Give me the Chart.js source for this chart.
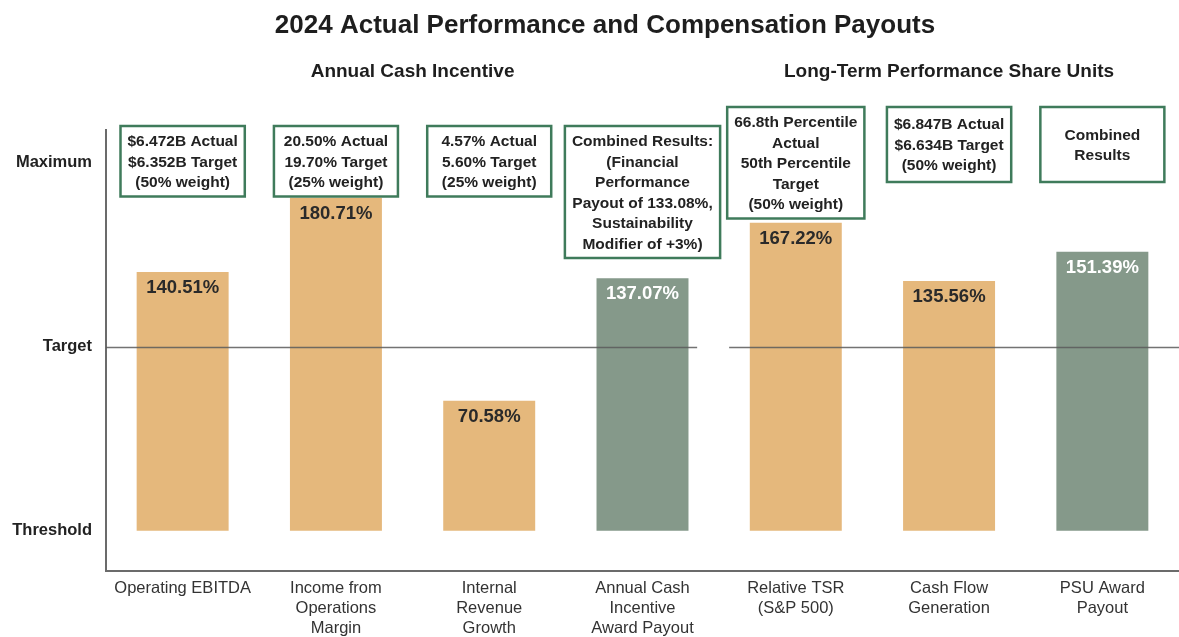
<!DOCTYPE html>
<html>
<head>
<meta charset="utf-8">
<script src="https://cdn.jsdelivr.net/npm/chart.js@4/dist/chart.umd.min.js"></script>
<style>
html,body{margin:0;padding:0;background:#fff;}
#wrap{width:1179px;height:637px;position:relative;}
</style>
</head>
<body>
<div id="wrap"><canvas id="c"></canvas></div>
<script>
const chartTitle = "2024 Actual Performance and Compensation Payouts";
const categories = [
  ["Operating EBITDA"],
  ["Income from", "Operations", "Margin"],
  ["Internal", "Revenue", "Growth"],
  ["Annual Cash", "Incentive", "Award Payout"],
  ["Relative TSR", "(S&P 500)"],
  ["Cash Flow", "Generation"],
  ["PSU Award", "Payout"]
];
const payouts = [140.51, 180.71, 70.58, 137.07, 167.22, 135.56, 151.39];
const barKinds = ["metric", "metric", "metric", "combined", "metric", "metric", "combined"];
const boxTexts = [
  ["$6.472B Actual", "$6.352B Target", "(50% weight)"],
  ["20.50% Actual", "19.70% Target", "(25% weight)"],
  ["4.57% Actual", "5.60% Target", "(25% weight)"],
  ["Combined Results:", "(Financial", "Performance", "Payout of 133.08%,", "Sustainability", "Modifier of +3%)"],
  ["66.8th Percentile", "Actual", "50th Percentile", "Target", "(50% weight)"],
  ["$6.847B Actual", "$6.634B Target", "(50% weight)"],
  ["Combined", "Results"]
];
const levelValues = [0, 100, 200];
const levelLabels = ["Threshold", "Target", "Maximum"];
const groupNames = ["Annual Cash Incentive", "Long-Term Performance Share Units"];
const groupFirst = [0, 4];
const groupLast = [3, 6];

const FONT = "'Liberation Sans', Arial, Helvetica, sans-serif";
const ORANGE = "#E5B87C";
const GREEN = "#85998A";
const BOX_BORDER = "#3F7B5B";

const groupOf = i => (i >= groupFirst[1] ? 1 : 0);

const decorPlugin = {
  id: "decor",
  afterDraw(chart) {
    const ctx = chart.ctx;
    const x = chart.scales.x, y = chart.scales.y;
    const area = chart.chartArea;
    ctx.save();
    // title
    ctx.fillStyle = "#1e1e1e";
    ctx.textAlign = "center";
    ctx.textBaseline = "middle";
    ctx.font = "bold 26px " + FONT;
    ctx.fillText(chartTitle, 605, 26);
    // group headers
    ctx.font = "bold 19px " + FONT;
    for (let g = 0; g < groupNames.length; g++) {
      const cx = (x.getPixelForValue(groupFirst[g]) + x.getPixelForValue(groupLast[g])) / 2;
      ctx.fillText(groupNames[g], cx, 72);
    }
    // target line with gap between groups
    const ty = Math.round(y.getPixelForValue(levelValues[1])) + 0.5;
    const gapX = (x.getPixelForValue(groupLast[0]) + x.getPixelForValue(groupFirst[1])) / 2;
    ctx.strokeStyle = "rgba(90,90,90,0.85)";
    ctx.lineWidth = 1.3;
    ctx.beginPath();
    ctx.moveTo(area.left, ty); ctx.lineTo(gapX - 22, ty);
    ctx.moveTo(gapX + 10, ty); ctx.lineTo(area.right, ty);
    ctx.stroke();
    // value labels
    const meta = chart.getDatasetMeta(0);
    ctx.font = "bold 18.5px " + FONT;
    ctx.textBaseline = "middle";
    meta.data.forEach((bar, i) => {
      ctx.fillStyle = barKinds[i] === "combined" ? "#ffffff" : "#2a2a2a";
      ctx.fillText(payouts[i].toFixed(2) + "%", bar.x, bar.y + 16);
    });
    // annotation boxes
    ctx.font = "bold 15.5px " + FONT;
    const lh = 20.5;
    boxTexts.forEach((lines, i) => {
      const cx = x.getPixelForValue(i);
      const g = groupOf(i);
      const top = g === 0 ? 126 : 107;
      let tw = 0;
      lines.forEach(l => { tw = Math.max(tw, ctx.measureText(l).width); });
      const w = Math.max(tw + 14, 124);
      const h = Math.max(lines.length * lh + 9, g === 0 ? 66 : 75);
      ctx.fillStyle = "#fff";
      ctx.fillRect(cx - w / 2, top, w, h);
      ctx.strokeStyle = BOX_BORDER;
      ctx.lineWidth = 2.5;
      ctx.strokeRect(cx - w / 2, top, w, h);
      ctx.fillStyle = "#222";
      const startY = top + h / 2 - (lines.length - 1) * lh / 2;
      lines.forEach((l, k) => ctx.fillText(l, cx, startY + k * lh + 1));
    });
    ctx.restore();
  }
};

new Chart(document.getElementById("c"), {
  type: "bar",
  data: {
    labels: categories,
    datasets: [{
      data: payouts,
      backgroundColor: barKinds.map(k => (k === "combined" ? GREEN : ORANGE)),
      borderWidth: 0,
      barPercentage: 0.6,
      categoryPercentage: 1.0
    }]
  },
  options: {
    responsive: true,
    maintainAspectRatio: false,
    animation: false,
    layout: { padding: { top: 130, right: 0, left: 0, bottom: 0 } },
    plugins: { legend: { display: false }, tooltip: { enabled: false }, title: { display: false } },
    scales: {
      x: {
        grid: { display: false, drawTicks: false },
        border: { display: true, color: "#6b6b6b", width: 2 },
        ticks: {
          color: "#333",
          font: { family: FONT, size: 16.5, lineHeight: 1.22 },
          padding: 7,
          maxRotation: 0,
          autoSkip: false
        },
        afterFit(scale) { scale.height = 66; }
      },
      y: {
        min: -21.8,
        max: 217.5,
        grid: { display: false, drawTicks: false },
        border: { display: true, color: "#6b6b6b", width: 2 },
        afterBuildTicks(scale) { scale.ticks = levelValues.map(v => ({ value: v })); },
        ticks: {
          color: "#222",
          font: { family: FONT, size: 16.5, weight: "bold" },
          padding: 14,
          callback: (v) => {
            const idx = levelValues.indexOf(v);
            return idx >= 0 ? levelLabels[idx] : "";
          }
        },
        afterFit(scale) { scale.width = 106; }
      }
    }
  },
  plugins: [decorPlugin]
});
</script>
</body>
</html>
